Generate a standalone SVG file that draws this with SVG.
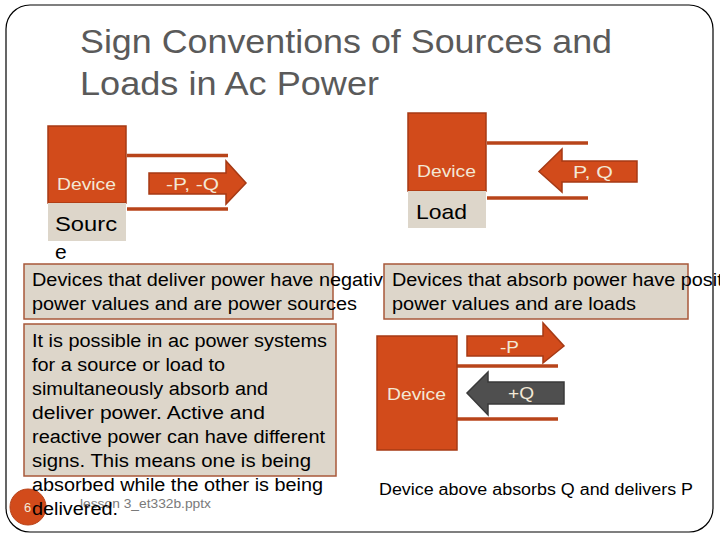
<svg xmlns="http://www.w3.org/2000/svg" width="720" height="540" viewBox="0 0 720 540">
<style>
text{font-family:"Liberation Sans",Arial,sans-serif}
.dev{fill:#d24b1b;stroke:#a63a15;stroke-width:1.5}
.beige{fill:#ddd6ca}
.box{fill:#ddd6ca;stroke:#a8583a;stroke-width:1.5}
.line{stroke:#b8441a;stroke-width:3.5}
.arr{fill:#d24b1b;stroke:#a63a15;stroke-width:1.5}
.arrg{fill:#4f4f4f;stroke:#3a3a3a;stroke-width:1.5}
.lt{fill:#f3e8d6;font-size:17px}
.bt{fill:#000;font-size:18px}
</style>
<rect width="720" height="540" fill="#fff"/>
<rect x="6" y="5" width="707" height="527" rx="24" fill="none" stroke="#000" stroke-width="1.2"/>
<g id="title">
<text x="80" y="53" font-size="33" fill="#5a5a5a" textLength="532" lengthAdjust="spacingAndGlyphs">Sign Conventions of Sources and</text>
<text x="80" y="95" font-size="33" fill="#5a5a5a" textLength="299" lengthAdjust="spacingAndGlyphs">Loads in Ac Power</text>
</g>
<g id="connectors">
<line class="line" x1="127" y1="155.5" x2="228" y2="155.5"/>
<line class="line" x1="127" y1="209" x2="228" y2="209"/>
<line class="line" x1="487" y1="143" x2="588" y2="143"/>
<line class="line" x1="487" y1="198" x2="588" y2="198"/>
<line class="line" x1="457" y1="366" x2="558" y2="366"/>
<line class="line" x1="457" y1="419" x2="558" y2="419"/>
</g>
<g id="source-device">
<rect class="dev" x="48" y="126" width="78" height="77"/>
<rect class="beige" x="48" y="203" width="78" height="38"/>
<text class="lt" x="57" y="190" textLength="59" lengthAdjust="spacingAndGlyphs">Device</text>
<text x="55" y="231" font-size="21" fill="#000" textLength="62" lengthAdjust="spacingAndGlyphs">Sourc</text>
<text x="55" y="259" font-size="21" fill="#000">e</text>
</g>
<g id="arrow-source">
<path class="arr" d="M149,173 H226 V161 L246,183 L226,204 V194 H149 Z"/>
<text class="lt" x="166" y="190" textLength="53" lengthAdjust="spacingAndGlyphs">-P, -Q</text>
</g>
<g id="load-device">
<rect class="dev" x="408" y="113" width="78" height="78"/>
<rect class="beige" x="408" y="191" width="78" height="37"/>
<text class="lt" x="417" y="177" textLength="59" lengthAdjust="spacingAndGlyphs">Device</text>
<text x="416" y="219" font-size="21" fill="#000" textLength="51" lengthAdjust="spacingAndGlyphs">Load</text>
</g>
<g id="arrow-load">
<path class="arr" d="M637,161 H562 V149 L539,171.5 L562,192 V182 H637 Z"/>
<text class="lt" x="573" y="178" textLength="40" lengthAdjust="spacingAndGlyphs">P, Q</text>
</g>
<g id="box-source">
<rect class="box" x="24" y="264" width="309" height="55"/>
<text class="bt" x="32" y="286" textLength="362" lengthAdjust="spacingAndGlyphs">Devices that deliver power have negative</text>
<text class="bt" x="32" y="310" textLength="325" lengthAdjust="spacingAndGlyphs">power values and are power sources</text>
</g>
<g id="box-load">
<rect class="box" x="384" y="264" width="304" height="55"/>
<text class="bt" x="392" y="286" textLength="356" lengthAdjust="spacingAndGlyphs">Devices that absorb power have positive</text>
<text class="bt" x="392" y="310" textLength="244" lengthAdjust="spacingAndGlyphs">power values and are loads</text>
</g>
<g id="box-note">
<rect class="box" x="24" y="324" width="312" height="152"/>
<circle cx="28" cy="507" r="18" fill="#d24b1b" stroke="#b8441a"/>
<text x="24" y="512" font-size="13" fill="#f3e8d6">6</text>
<text x="80" y="508" font-size="12" fill="#7a7a7a" textLength="131" lengthAdjust="spacingAndGlyphs">lesson 3_et332b.pptx</text>
<g class="bt" font-size="18">
<text x="32" y="347" textLength="295" lengthAdjust="spacingAndGlyphs">It is possible in ac power systems</text>
<text x="32" y="371" textLength="193" lengthAdjust="spacingAndGlyphs">for a source or load to</text>
<text x="32" y="395" textLength="236" lengthAdjust="spacingAndGlyphs">simultaneously absorb and</text>
<text x="32" y="419" textLength="233" lengthAdjust="spacingAndGlyphs">deliver power.   Active and</text>
<text x="32" y="443" textLength="293" lengthAdjust="spacingAndGlyphs">reactive power can have different</text>
<text x="32" y="467" textLength="279" lengthAdjust="spacingAndGlyphs">signs.  This means one is being</text>
<text x="32" y="491" textLength="291" lengthAdjust="spacingAndGlyphs">absorbed while the other is being</text>
<text x="32" y="515" textLength="86" lengthAdjust="spacingAndGlyphs">delivered.</text>
</g>
</g>
<g id="mixed-device">
<rect class="dev" x="377" y="336" width="80" height="114"/>
<text class="lt" x="387" y="400" textLength="59" lengthAdjust="spacingAndGlyphs">Device</text>
</g>
<g id="arrow-p">
<path class="arr" d="M467,336 H543 V323 L564,346 L543,363 V356 H467 Z"/>
<text class="lt" x="500" y="353" textLength="19" lengthAdjust="spacingAndGlyphs">-P</text>
</g>
<g id="arrow-q">
<path class="arrg" d="M564,382 H488 V372 L467,393 L488,415 V404 H564 Z"/>
<text class="lt" x="508" y="399" textLength="26" lengthAdjust="spacingAndGlyphs">+Q</text>
</g>
<text x="379" y="495" font-size="16" fill="#000" textLength="314" lengthAdjust="spacingAndGlyphs">Device above absorbs Q and delivers P</text>
</svg>
